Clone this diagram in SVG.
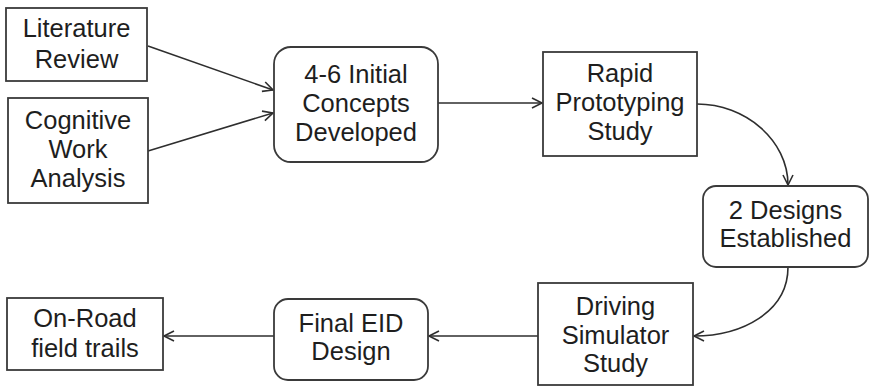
<svg xmlns="http://www.w3.org/2000/svg" width="870" height="387" viewBox="0 0 870 387">
<defs>
<style>
.box{fill:#fff;stroke:#3a3a3a;stroke-width:1.8}
.lbl{font-family:"Liberation Sans",Arial,sans-serif;font-size:25.5px;fill:#1e1e1e;text-anchor:middle}
.con{fill:none;stroke:#2e2e2e;stroke-width:1.6}
</style>
<marker id="ah" markerWidth="14" markerHeight="14" refX="11" refY="6" orient="auto" markerUnits="userSpaceOnUse">
<path d="M1,1 L11,6 L1,11" fill="none" stroke="#2e2e2e" stroke-width="1.6"/>
</marker>
</defs>
<rect width="870" height="387" fill="#fff"/>
<g id="connectors">
<path class="con" d="M148,46 L273,90" marker-end="url(#ah)"/>
<path class="con" d="M148,151 L273,113" marker-end="url(#ah)"/>
<path class="con" d="M438,103 L542,103" marker-end="url(#ah)"/>
<path class="con" d="M697,104 C745,104 788,140 788,185" marker-end="url(#ah)"/>
<path class="con" d="M788,267 C788,312 742,336 694,336" marker-end="url(#ah)"/>
<path class="con" d="M538,336 L429,336" marker-end="url(#ah)"/>
<path class="con" d="M274,336 L164,336" marker-end="url(#ah)"/>
</g>
<g id="literature-review">
<rect class="box" x="6" y="8" width="141" height="73"/>
<text class="lbl" x="76.5" y="37">Literature</text>
<text class="lbl" x="76.5" y="68">Review</text>
</g>
<g id="cognitive-work-analysis">
<rect class="box" x="8" y="98" width="140" height="105"/>
<text class="lbl" x="78" y="129">Cognitive</text>
<text class="lbl" x="78" y="158">Work</text>
<text class="lbl" x="78" y="187">Analysis</text>
</g>
<g id="initial-concepts">
<rect class="box" x="274" y="47" width="164" height="115" rx="17" ry="17"/>
<text class="lbl" x="356" y="83">4-6 Initial</text>
<text class="lbl" x="356" y="112">Concepts</text>
<text class="lbl" x="356" y="141">Developed</text>
</g>
<g id="rapid-prototyping">
<rect class="box" x="543" y="52" width="154" height="104"/>
<text class="lbl" x="620" y="82">Rapid</text>
<text class="lbl" x="620" y="111">Prototyping</text>
<text class="lbl" x="620" y="140">Study</text>
</g>
<g id="two-designs">
<rect class="box" x="703" y="186" width="165" height="81" rx="13" ry="13"/>
<text class="lbl" x="785.5" y="219">2 Designs</text>
<text class="lbl" x="785.5" y="247">Established</text>
</g>
<g id="driving-simulator">
<rect class="box" x="538" y="283" width="155" height="102"/>
<text class="lbl" x="615.5" y="315">Driving</text>
<text class="lbl" x="615.5" y="344">Simulator</text>
<text class="lbl" x="615.5" y="372">Study</text>
</g>
<g id="final-eid">
<rect class="box" x="274" y="299" width="154" height="81" rx="14" ry="14"/>
<text class="lbl" x="351" y="332">Final EID</text>
<text class="lbl" x="351" y="360">Design</text>
</g>
<g id="on-road">
<rect class="box" x="7" y="298" width="156" height="72"/>
<text class="lbl" x="85" y="327">On-Road</text>
<text class="lbl" x="85" y="357">field trails</text>
</g>
</svg>
